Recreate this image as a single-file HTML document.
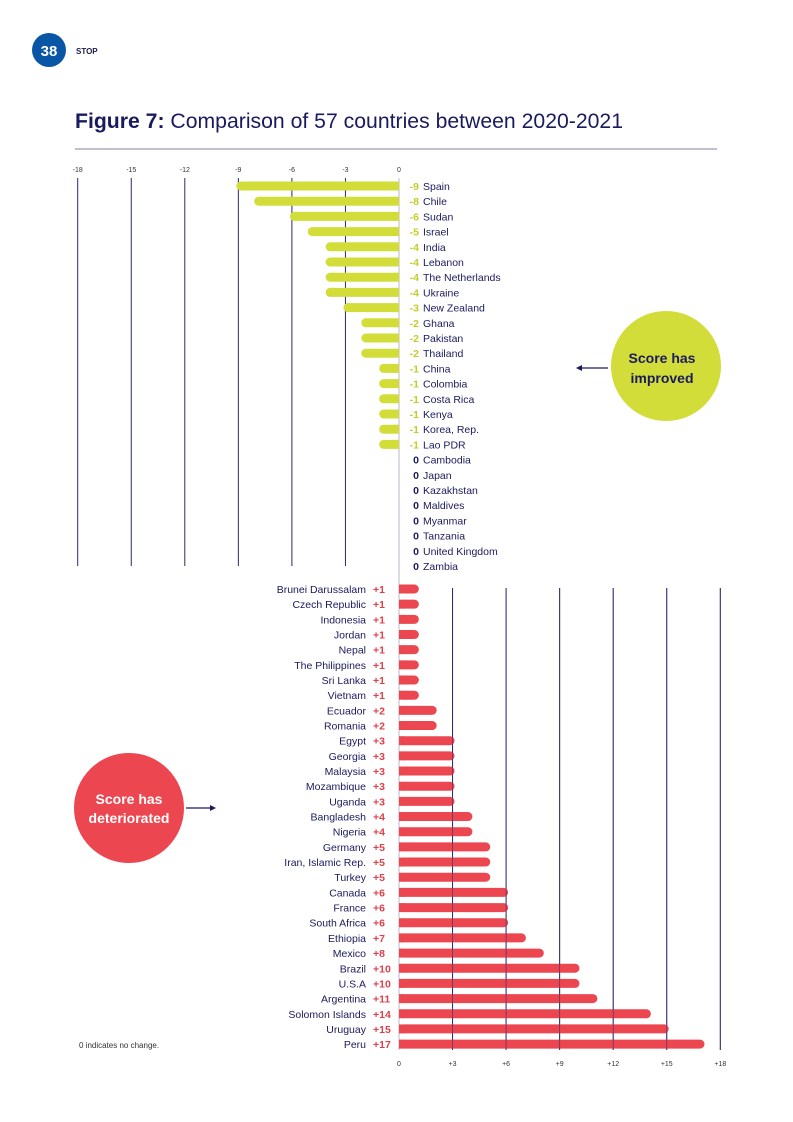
<!DOCTYPE html>
<html><head><meta charset="utf-8"><style>
body{margin:0;background:#fff;font-family:"Liberation Sans",sans-serif;}
#page{position:relative;width:793px;height:1122px;overflow:hidden;}
</style></head><body>
<div id="page">
<svg width="793" height="1122" xmlns="http://www.w3.org/2000/svg" id="chart">
<circle cx="49" cy="50" r="17" fill="#0a56a6"/>
<text x="49" y="56" text-anchor="middle" font-size="15" font-weight="bold" fill="#fff">38</text>
<text x="76" y="54" font-size="8" font-weight="bold" fill="#1c1c4a">STOP</text>
<text x="75" y="128" font-size="21" fill="#1a1a5e" textLength="548" lengthAdjust="spacingAndGlyphs"><tspan font-weight="bold">Figure 7:</tspan> Comparison of 57 countries between 2020-2021</text>
<line x1="75" y1="149" x2="717" y2="149" stroke="#9a9ab5" stroke-width="1.2"/>
<g id="g"></g>
<circle cx="666" cy="366" r="55" fill="#d3dd3a"/>
<text x="662" y="363" text-anchor="middle" font-size="14" font-weight="bold" fill="#1a1a5e">Score has</text>
<text x="662" y="383" text-anchor="middle" font-size="14" font-weight="bold" fill="#1a1a5e">improved</text>
<line x1="578" y1="368" x2="608" y2="368" stroke="#1a1a5e" stroke-width="1.2"/>
<path d="M576 368 L582 365 L582 371Z" fill="#1a1a5e"/>
<circle cx="129" cy="808" r="55" fill="#ec4750"/>
<text x="129" y="804" text-anchor="middle" font-size="14" font-weight="bold" fill="#fff">Score has</text>
<text x="129" y="823" text-anchor="middle" font-size="14" font-weight="bold" fill="#fff">deteriorated</text>
<line x1="186" y1="808" x2="212" y2="808" stroke="#1a1a5e" stroke-width="1.2"/>
<path d="M216 808 L210 805 L210 811Z" fill="#1a1a5e"/>
<text x="79" y="1048" font-size="8" fill="#333">0 indicates no change.</text>
</svg>
</div>
<script>
const negNames=["Spain","Chile","Sudan","Israel","India","Lebanon","The Netherlands","Ukraine","New Zealand","Ghana","Pakistan","Thailand","China","Colombia","Costa Rica","Kenya","Korea, Rep.","Lao PDR","Cambodia","Japan","Kazakhstan","Maldives","Myanmar","Tanzania","United Kingdom","Zambia"];
const negValues=[-9,-8,-6,-5,-4,-4,-4,-4,-3,-2,-2,-2,-1,-1,-1,-1,-1,-1,0,0,0,0,0,0,0,0];
const posNames=["Brunei Darussalam","Czech Republic","Indonesia","Jordan","Nepal","The Philippines","Sri Lanka","Vietnam","Ecuador","Romania","Egypt","Georgia","Malaysia","Mozambique","Uganda","Bangladesh","Nigeria","Germany","Iran, Islamic Rep.","Turkey","Canada","France","South Africa","Ethiopia","Mexico","Brazil","U.S.A","Argentina","Solomon Islands","Uruguay","Peru"];
const posValues=[1,1,1,1,1,1,1,1,2,2,3,3,3,3,3,4,4,5,5,5,6,6,6,7,8,10,10,11,14,15,17];
const negTicks=[-18,-15,-12,-9,-6,-3,0];
const posTicks=[0,3,6,9,12,15,18];
const NS="http://www.w3.org/2000/svg";
const g=document.getElementById('g');
const x=v=>399+v*17.85;
const yN=i=>186+i*15.2;
const yP=i=>589+i*15.17;
function mk(t,a,txt){const e=document.createElementNS(NS,t);for(const k in a)e.setAttribute(k,a[k]);if(txt!==undefined)e.textContent=txt;g.appendChild(e);return e;}
negTicks.forEach(t=>{
 const l=mk('line',{x1:x(t),x2:x(t),y1:178,y2:t===0?1050:566,stroke:t===0?'#b8b8cc':'#2a2a6a','stroke-width':1});
 
 
 const s=mk('text',{x:x(t),y:172,'text-anchor':'middle','font-size':7,fill:'#333'},String(t));
 
 
});
posTicks.forEach(t=>{
 if(t>0){const l=mk('line',{x1:x(t),x2:x(t),y1:588,y2:1050,stroke:'#2a2a6a','stroke-width':1});
 
 }
 const s=mk('text',{x:x(t),y:1066,'text-anchor':'middle','font-size':7,fill:'#333'},t===0?'0':'+'+t);
 
 
});
negNames.forEach((n,i)=>{
 const v=negValues[i],y=yN(i);
 if(v<0){const w=x(0)-x(v)+2;
  const b=mk('rect',{x:x(v)-2,y:y-4.5,width:w,height:9,rx:4.5,fill:'#d3dd3a'});
  
  
  const c=mk('rect',{x:x(0)-5,y:y-4.5,width:5,height:9,fill:'#d3dd3a'});
  
  }
 const vt=mk('text',{x:419,y:y+4,'text-anchor':'end','font-size':10.5,'font-weight':'bold',fill:v<0?'#c3cd2a':'#1a1a5e'},String(v));
 
 
 const nt=mk('text',{x:423,y:y+4,'font-size':10.5,fill:'#1a1a5e'},n);
 
 
});
posNames.forEach((n,i)=>{
 const v=posValues[i],y=yP(i);
 const b=mk('rect',{x:x(0),y:y-4.5,width:x(v)-x(0)+2,height:9,rx:4.5,fill:'#ec4750'});
 
 
 const c=mk('rect',{x:x(0),y:y-4.5,width:5,height:9,fill:'#ec4750'});
 
 
 const vt=mk('text',{x:373,y:y+4,'font-size':10.5,'font-weight':'bold',fill:'#e0404a'},'+'+v);
 
 
 const nt=mk('text',{x:366,y:y+4,'text-anchor':'end','font-size':10.5,fill:'#1a1a5e'},n);
 
 
});
posTicks.forEach(t=>{ if(t>0){const l=mk('line',{x1:x(t),x2:x(t),y1:588,y2:1050,stroke:'#2a2a6a','stroke-width':0.8,'stroke-opacity':0.7});
 
 }});
</script>
</body></html>
